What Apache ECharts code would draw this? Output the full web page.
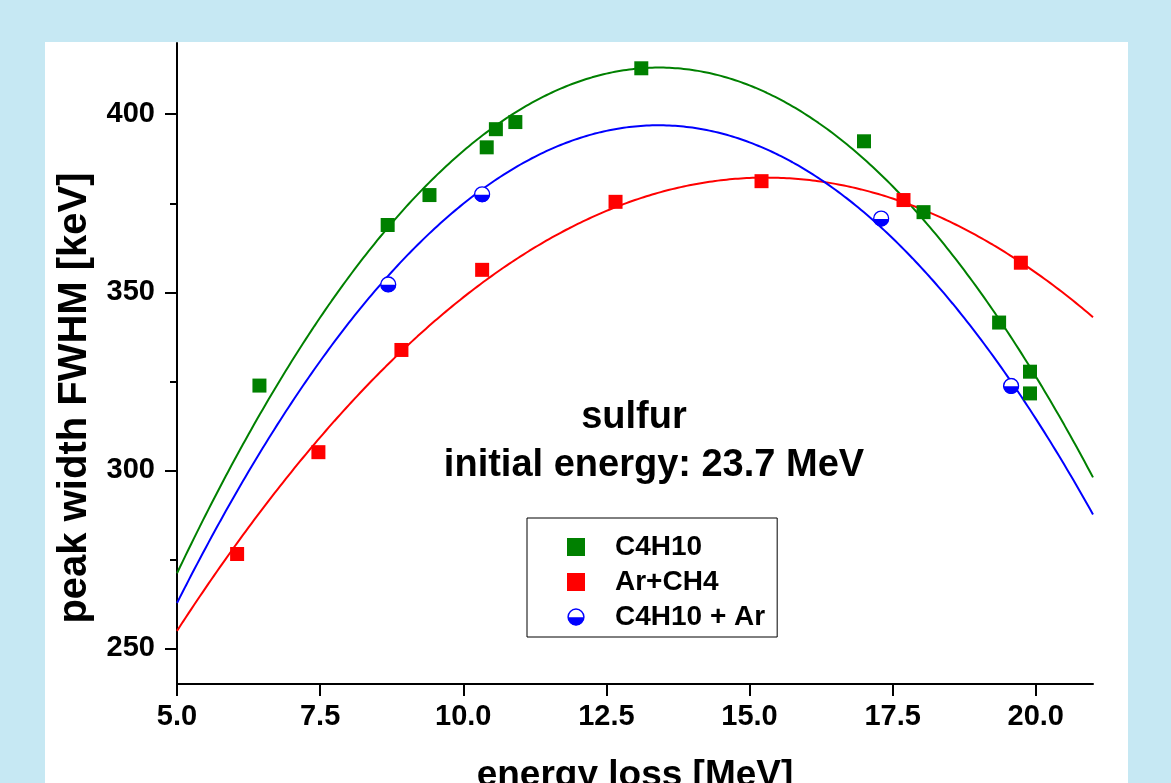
<!DOCTYPE html>
<html>
<head>
<meta charset="utf-8">
<script src="https://cdn.jsdelivr.net/npm/echarts@6/dist/echarts.min.js"></script>
<style>
  html, body { margin: 0; padding: 0; background: #c6e8f3; }
  #chart { width: 1171px; height: 783px; }
</style>
</head>
<body>
<div id="chart"></div>
<script>
// peak width (FWHM) vs energy loss, sulfur 23.7 MeV, three counting gases
const energyC4H10 = [6.44, 8.68, 9.41, 10.41, 10.57, 10.91, 13.11, 17.00, 18.04, 19.36, 19.90, 19.90]
const fwhmC4H10 = [323.8, 368.9, 377.3, 390.7, 395.8, 397.8, 412.9, 392.4, 372.5, 341.5, 327.7, 321.6]

const energyArCH4 = [6.05, 7.47, 8.92, 10.33, 12.66, 15.21, 17.69, 19.74]
const fwhmArCH4 = [276.5, 305.1, 333.8, 356.3, 375.4, 381.2, 375.9, 358.3]

const energyMix = [8.69, 10.33, 17.30, 19.57]
const fwhmMix = [352.2, 377.5, 370.7, 323.7]

// parabolic fits as drawn in the plot: vertex x, vertex y, curvature
// order: C4H10, Ar+CH4, C4H10 + Ar
const fitPeakX = [13.42, 15.29, 13.41]
const fitPeakY = [413.1, 382.2, 396.9]
const fitCurv = [2.003, 1.202, 1.897]

const xTicks = [5, 7.5, 10, 12.5, 15, 17.5, 20]
const yTicks = [250, 300, 350, 400]
const yMinorTicks = [275, 325, 375]

const FONT = '"Liberation Sans", Arial, sans-serif'
const GREEN = '#008000'
const RED = '#ff0000'
const BLUE = '#0000ff'

// half filled circle (white top, blue bottom)
const HALF_SVG = '<svg xmlns="http://www.w3.org/2000/svg" width="20" height="20" viewBox="0 0 20 20">' +
  '<circle cx="10" cy="10" r="8.8" fill="#fff" stroke="#0000ff" stroke-width="1.6"/>' +
  '<path d="M1.2,10.4 A8.8,8.8 0 0 0 18.8,10.4 Z" fill="#0000ff"/></svg>'
const HALF_ICON = 'image://data:image/svg+xml;charset=utf-8,' + encodeURIComponent(HALF_SVG)

function fitCurve(i) {
  const out = []
  for (let x = 5; x <= 21.0001; x += 0.05) {
    out.push([x, fitPeakY[i] - fitCurv[i] * (x - fitPeakX[i]) ** 2])
  }
  return out
}

const pairs = (xs, ys) => xs.map((x, i) => [x, ys[i]])

const chart = echarts.init(document.getElementById('chart'))

const axisBase = {
  axisLine: { show: true, lineStyle: { color: '#000', width: 2 } },
  splitLine: { show: false },
}

chart.setOption({
  backgroundColor: '#c6e8f3',
  animation: false,
  graphic: [
    { type: 'rect', z: -10, shape: { x: 45, y: 42, width: 1083, height: 745 }, style: { fill: '#fff' } },
    { type: 'text', x: 634, y: 418, style: { text: 'sulfur', font: 'bold 38px ' + FONT, fill: '#000', align: 'center', verticalAlign: 'middle' } },
    { type: 'text', x: 654, y: 466, style: { text: 'initial energy: 23.7 MeV', font: 'bold 38px ' + FONT, fill: '#000', align: 'center', verticalAlign: 'middle' } },
  ],
  grid: { left: 177, top: 43, right: 78, bottom: 99, outerBoundsMode: 'none', containLabel: false },
  legend: {
    orient: 'vertical',
    left: 527,
    top: 518,
    padding: [15, 12, 6, 40],
    itemGap: 7,
    itemWidth: 18,
    itemHeight: 18,
    backgroundColor: '#fff',
    borderColor: '#000',
    borderWidth: 1,
    borderRadius: 0,
    textStyle: { fontFamily: FONT, fontWeight: 'bold', fontSize: 28, color: '#000', padding: [0, 0, 0, 25] },
    data: [
      { name: 'C4H10', icon: 'rect' },
      { name: 'Ar+CH4', icon: 'rect' },
      { name: 'C4H10 + Ar', icon: HALF_ICON },
    ],
  },
  xAxis: {
    ...axisBase,
    type: 'value',
    min: 5,
    max: 21,
    axisTick: { show: true, customValues: xTicks, length: 12, lineStyle: { color: '#000', width: 2 } },
    axisLabel: {
      customValues: xTicks,
      formatter: (v) => v.toFixed(1),
      color: '#000', fontFamily: FONT, fontWeight: 'bold', fontSize: 29, margin: 18,
    },
    name: 'energy loss [MeV]',
    nameLocation: 'middle',
    nameGap: 73,
    nameTextStyle: { color: '#000', fontFamily: FONT, fontWeight: 'bold', fontSize: 37 },
  },
  yAxis: [
    {
      ...axisBase,
      type: 'value',
      min: 240,
      max: 420,
      axisTick: { show: true, customValues: yTicks, length: 12, lineStyle: { color: '#000', width: 2 } },
      axisLabel: { customValues: yTicks, color: '#000', fontFamily: FONT, fontWeight: 'bold', fontSize: 29, margin: 22 },
      name: 'peak width FWHM [keV]',
      nameLocation: 'middle',
      nameGap: 82,
      nameTextStyle: { color: '#000', fontFamily: FONT, fontWeight: 'bold', fontSize: 40, padding: [0, 69, 0, 0] },
    },
    {
      type: 'value',
      min: 240,
      max: 420,
      position: 'left',
      axisLine: { show: false },
      axisTick: { show: true, customValues: yMinorTicks, length: 7, lineStyle: { color: '#000', width: 2 } },
      axisLabel: { show: false },
      splitLine: { show: false },
    },
  ],
  series: [
    { name: 'C4H10 fit', type: 'line', data: fitCurve(0), showSymbol: false, silent: true, z: 2, lineStyle: { color: GREEN, width: 2 } },
    { name: 'Ar+CH4 fit', type: 'line', data: fitCurve(1), showSymbol: false, silent: true, z: 2, lineStyle: { color: RED, width: 2 } },
    { name: 'C4H10 + Ar fit', type: 'line', data: fitCurve(2), showSymbol: false, silent: true, z: 2, lineStyle: { color: BLUE, width: 2 } },
    { name: 'C4H10', type: 'scatter', data: pairs(energyC4H10, fwhmC4H10), symbol: 'rect', symbolSize: 14, z: 3, itemStyle: { color: GREEN, opacity: 1 } },
    { name: 'Ar+CH4', type: 'scatter', data: pairs(energyArCH4, fwhmArCH4), symbol: 'rect', symbolSize: 14, z: 3, itemStyle: { color: RED, opacity: 1 } },
    { name: 'C4H10 + Ar', type: 'scatter', data: pairs(energyMix, fwhmMix), symbol: HALF_ICON, symbolSize: 17, z: 3, itemStyle: { color: BLUE, opacity: 1 } },
  ],
})
</script>
</body>
</html>
